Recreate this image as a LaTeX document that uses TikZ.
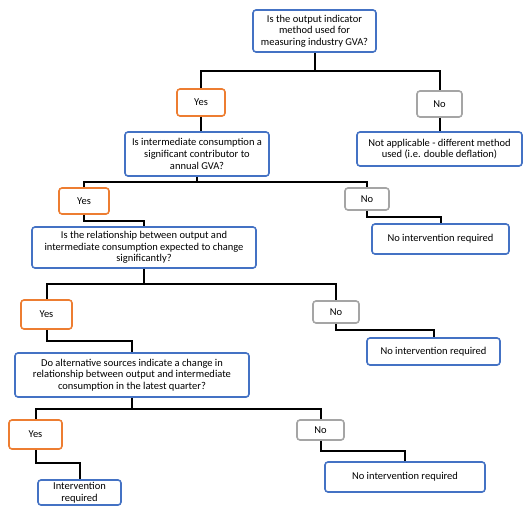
\documentclass[tikz,border=0pt]{standalone}
\usepackage{fontspec}
\setmainfont{Carlito}
\definecolor{qblue}{HTML}{4472C4}
\definecolor{yorange}{HTML}{ED7D31}
\definecolor{ngray}{HTML}{A5A5A5}
\begin{document}
\begin{tikzpicture}[x=1pt,y=-1pt,
  base/.style={draw, line width=1.6pt, rounded corners=3pt, fill=white, align=center,
    inner sep=1pt, font=\fontsize{10.5}{11.7}\selectfont, text=black},
  qbox/.style={base, draw=qblue},
  ybox/.style={base, draw=yorange},
  nbox/.style={base, draw=ngray},
  link/.style={line width=2pt, black}]
\useasboundingbox (0,0) rectangle (531,512);
% nodes
\node[qbox, minimum width=123pt, minimum height=42pt] (q1) at (314.5,31) {Is the output indicator\\method used for\\measuring industry GVA?};
\node[ybox, minimum width=48pt, minimum height=27pt] (yes1) at (201,102.5) {Yes};
\node[nbox, minimum width=45pt, minimum height=26pt] (no1) at (439.5,104) {No};
\node[qbox, minimum width=165pt, minimum height=34pt] (na) at (439.5,149) {Not applicable - different method\\used (i.e. double deflation)};
\node[qbox, minimum width=144pt, minimum height=44pt] (q2) at (197,154) {Is intermediate consumption a\\significant contributor to\\annual GVA?};
\node[ybox, minimum width=50pt, minimum height=26pt] (yes2) at (84,201) {Yes};
\node[nbox, minimum width=44pt, minimum height=22pt] (no2) at (367,199) {No};
\node[qbox, minimum width=137pt, minimum height=30pt] (nr1) at (440.5,239) {No intervention required};
\node[qbox, minimum width=224pt, minimum height=41pt] (q3) at (144,247.5) {Is the relationship between output and\\intermediate consumption expected to change\\significantly?};
\node[ybox, minimum width=51pt, minimum height=29pt] (yes3) at (46.5,314.5) {Yes};
\node[nbox, minimum width=46pt, minimum height=22pt] (no3) at (336,312) {No};
\node[qbox, minimum width=133pt, minimum height=27pt] (nr2) at (433.5,351.5) {No intervention required};
\node[qbox, minimum width=234pt, minimum height=44pt] (q4) at (132,375) {Do alternative sources indicate a change in\\relationship between output and intermediate\\consumption in the latest quarter?};
\node[ybox, minimum width=53pt, minimum height=29pt] (yes4) at (35.5,434.5) {Yes};
\node[nbox, minimum width=47pt, minimum height=20pt] (no4) at (320.5,430) {No};
\node[qbox, minimum width=83pt, minimum height=25pt] (ir) at (79.5,492.5) {Intervention\\required};
\node[qbox, minimum width=160pt, minimum height=30pt] (nr3) at (405,477) {No intervention required};
% connectors
\coordinate (j1) at (q1.south |- 0,71);
\draw[link] (q1.south) -- (j1) -| (yes1.north);
\draw[link] (j1) -| (no1.north);
\draw[link] (yes1.south) -- (yes1.south |- q2.north);
\draw[link] (no1.south) -- (na.north);
\coordinate (j2) at (q2.south |- 0,182);
\draw[link] (q2.south) -- (j2) -| (yes2.north);
\draw[link] (j2) -| (no2.north);
\draw[link] (yes2.south) -- (yes2.south |- 0,221) -| (q3.north);
\draw[link] (no2.south) -- (no2.south |- 0,217) -| (nr1.north);
\coordinate (j3) at (q3.south |- 0,284);
\draw[link] (q3.south) -- (j3) -| (yes3.north);
\draw[link] (j3) -| (no3.north);
\draw[link] (yes3.south) -- (yes3.south |- 0,341) -| (q4.north);
\draw[link] (no3.south) -- (no3.south |- 0,330) -| (nr2.north);
\coordinate (j4) at (q4.south |- 0,409);
\draw[link] (q4.south) -- (j4) -| (yes4.north);
\draw[link] (j4) -| (no4.north);
\draw[link] (yes4.south) -- (yes4.south |- 0,463) -| (ir.north);
\draw[link] (no4.south) -- (no4.south |- 0,451) -| (nr3.north);
\end{tikzpicture}
\end{document}
